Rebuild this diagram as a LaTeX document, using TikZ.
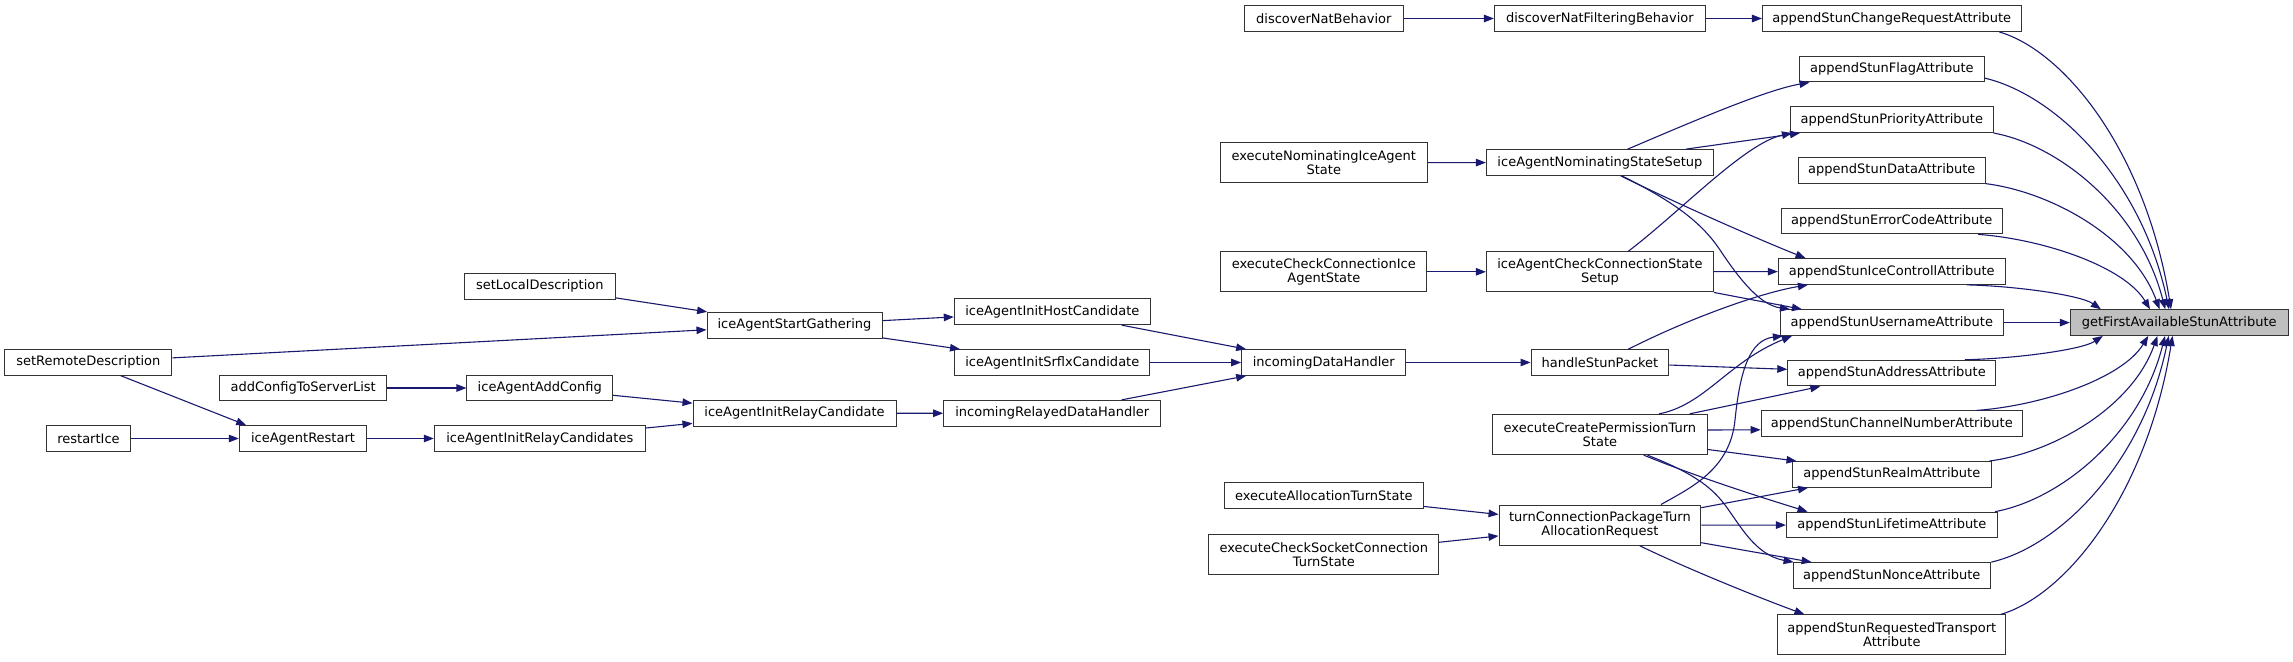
\documentclass[tikz,border=0pt]{standalone}
\usepackage{fontspec}
\setmainfont{DejaVu Sans}
\usetikzlibrary{arrows.meta,calc}
\definecolor{edgeblue}{RGB}{25,25,112}
\definecolor{nodegray}{RGB}{191,191,191}
\begin{document}
\begin{tikzpicture}[x=1pt,y=-1pt,
  fn/.style={draw=black!80, line width=1pt, fill=white, inner sep=0pt, minimum height=25.7pt, align=center, font=\fontsize{13}{14}\selectfont},
  fn2/.style={fn, minimum height=40.3pt},
  call/.style={draw=edgeblue, line width=1.1pt, -{Triangle[length=10pt,width=7.5pt]}},
]
\fill[white] (0,0) rectangle (2293,661);
\useasboundingbox (0,0) rectangle (2293,661);

% column 0
\node[fn, minimum width=167pt] (sRD) at (88.4,362.3) {setRemoteDescription};
\node[fn, minimum width=84pt] (rI) at (88.5,438.5) {restartIce};
% column 1
\node[fn, minimum width=167pt] (aC) at (303.2,388) {addConfigToServerList};
\node[fn, minimum width=127.4pt] (iAR) at (303,438.5) {iceAgentRestart};
% column 2
\node[fn, minimum width=151pt] (sLD) at (539.8,286.3) {setLocalDescription};
\node[fn, minimum width=145.7pt] (iAAC) at (539.8,388) {iceAgentAddConfig};
\node[fn, minimum width=211pt] (iAIRCs) at (539.8,438.5) {iceAgentInitRelayCandidates};
% column 3
\node[fn, minimum width=175pt] (iASG) at (794.5,325.2) {iceAgentStartGathering};
\node[fn, minimum width=203pt] (iAIRC) at (794.5,413.3) {iceAgentInitRelayCandidate};
% column 4
\node[fn, minimum width=196pt] (iAIHC) at (1052.3,311.8) {iceAgentInitHostCandidate};
\node[fn, minimum width=194.7pt] (iAISC) at (1052.3,362.5) {iceAgentInitSrflxCandidate};
\node[fn, minimum width=217.3pt] (iRDH) at (1052.3,413.2) {incomingRelayedDataHandler};
% column 5
\node[fn, minimum width=159pt] (dNB) at (1323.8,18.5) {discoverNatBehavior};
\node[fn2, minimum width=207pt] (eNIAS) at (1323.8,162.7) {executeNominatingIceAgent\\State};
\node[fn2, minimum width=206pt] (eCCIAS) at (1323.8,271.8) {executeCheckConnectionIce\\AgentState};
\node[fn, minimum width=164.3pt] (iDH) at (1323.8,362.5) {incomingDataHandler};
\node[fn, minimum width=199pt] (eATS) at (1323.8,495.8) {executeAllocationTurnState};
\node[fn2, minimum width=229.7pt] (eCSCTS) at (1323.8,554.5) {executeCheckSocketConnection\\TurnState};
% column 6
\node[fn, minimum width=211pt] (dNFB) at (1599.9,18.5) {discoverNatFilteringBehavior};
\node[fn, minimum width=227pt] (iANSS) at (1599.9,162.5) {iceAgentNominatingStateSetup};
\node[fn2, minimum width=227pt] (iACCSS) at (1599.9,271.8) {iceAgentCheckConnectionState\\Setup};
\node[fn, minimum width=137.7pt] (hSP) at (1599.9,362.5) {handleStunPacket};
\node[fn2, minimum width=214.7pt] (eCPTS) at (1599.9,434.5) {executeCreatePermissionTurn\\State};
\node[fn2, minimum width=201.7pt] (tCPTAR) at (1599.9,525.2) {turnConnectionPackageTurn\\AllocationRequest};
% column 7
\node[fn, minimum width=258.7pt] (cRA) at (1891.8,18.5) {appendStunChangeRequestAttribute};
\node[fn, minimum width=184.6pt] (fA) at (1891.8,69.1) {appendStunFlagAttribute};
\node[fn, minimum width=202.7pt] (pA) at (1891.8,119.7) {appendStunPriorityAttribute};
\node[fn, minimum width=186.9pt] (dA) at (1891.8,170.3) {appendStunDataAttribute};
\node[fn, minimum width=220.5pt] (eCA) at (1891.8,221) {appendStunErrorCodeAttribute};
\node[fn, minimum width=226.9pt] (iCA) at (1891.8,271.5) {appendStunIceControllAttribute};
\node[fn, minimum width=222.8pt] (uA) at (1891.8,322.6) {appendStunUsernameAttribute};
\node[fn, minimum width=208pt] (aA) at (1891.8,373.1) {appendStunAddressAttribute};
\node[fn, minimum width=261.3pt] (cNA) at (1891.8,423.8) {appendStunChannelNumberAttribute};
\node[fn, minimum width=198.6pt] (rA) at (1891.8,474.4) {appendStunRealmAttribute};
\node[fn, minimum width=210.7pt] (lA) at (1891.8,525) {appendStunLifetimeAttribute};
\node[fn, minimum width=197.4pt] (nA) at (1891.8,575.5) {appendStunNonceAttribute};
\node[fn, minimum width=227.7pt, minimum height=40pt] (rTA) at (1891.8,634.9) {appendStunRequestedTransport\\Attribute};
% column 8
\node[fn, minimum width=217.8pt, fill=nodegray] (gF) at (2179.2,322.6) {getFirstAvailableStunAttribute};

% ---- left part edges
\draw[call] (sLD) -- (iASG);
\draw[call] (sRD) -- (iASG);
\draw[call] ($(sRD.south)+(32.3,0)$) -- ($(iAR.north west)+(7.4,0)$);
\draw[call] (rI) -- (iAR);
\draw[call] (aC) -- (iAAC);
\draw[call] (iAR) -- (iAIRCs);
\draw[call] (iAAC) -- (iAIRC);
\draw[call] (iAIRCs) -- (iAIRC);
\draw[call] (iAIRC) -- (iRDH);
\draw[call] (iASG) -- (iAIHC);
\draw[call] (iASG) -- (iAISC);
\draw[call] ($(iAIHC.south)+(69.4,0)$) -- ($(iDH.north west)+(5,0)$);
\draw[call] (iAISC) -- (iDH);
\draw[call] ($(iRDH.north)+(69.4,0)$) -- ($(iDH.south west)+(5,0)$);
\draw[call] (iDH) -- (hSP);
\draw[call] (dNB) -- (dNFB);
\draw[call] (dNFB) -- (cRA);
\draw[call] (eNIAS) -- (iANSS);
\draw[call] (eCCIAS) -- (iACCSS);
\draw[call] (eATS) -- (tCPTAR);
\draw[call] (eCSCTS) -- (tCPTAR);

% ---- middle to append column
\draw[call] ($(iANSS.north)+(27.7,0)$) .. controls (1687.6,123.7) and (1765,90) .. ($(fA.south west)+(10.5,0)$);
\draw[call] ($(iANSS.north)+(85.9,0)$) -- ($(pA.south west)+(10,0)$);
\draw[call] ($(iACCSS.north)+(28.5,0)$) .. controls (1680,212) and (1745,143) .. ($(pA.south west)+(2,0)$);
\draw[call] ($(iANSS.south)+(20.8,0)$) .. controls (1680,205) and (1760,240) .. ($(iCA.north west)+(27.7,0)$);
\draw[call] ($(iANSS.south)+(22,0)$) .. controls (1670,200) and (1700,220) .. (1720,250) .. controls (1740,280) and (1760,305) .. ($(uA.north west)+(10,0)$);
\draw[call] (iACCSS) -- (iCA);
\draw[call] (iACCSS.south east) -- ($(uA.north west)+(22,0)$);
\draw[call] ($(hSP.north)+(28.5,0)$) .. controls (1690,318) and (1760,293) .. ($(iCA.south west)+(30,0)$);
\draw[call] (hSP) -- (aA);
\draw[call] ($(eCPTS.north)+(59.1,0)$) .. controls (1705,405) and (1728,362) .. ($(uA.south west)+(12,0)$);
\draw[call] ($(eCPTS.north)+(89.7,0)$) -- ($(aA.south west)+(33,0)$);
\draw[call] ($(eCPTS.east)+(0,-4.5)$) -- ($(cNA.west)+(0,6)$);
\draw[call] ($(eCPTS.east)+(0,15)$) -- ($(rA.north west)+(4.5,0)$);
\draw[call] ($(eCPTS.south)+(43.8,0)$) .. controls (1700,478) and (1760,497) .. ($(lA.north west)+(21.6,0)$);
\draw[call] ($(eCPTS.south)+(47.6,0)$) .. controls (1690,472) and (1710,485) .. (1725,505) .. controls (1740,525) and (1755,555) .. ($(nA.north west)+(1,0)$);
\draw[call] ($(tCPTAR.north)+(61,0)$) .. controls (1690,488) and (1730,470) .. (1735,420) .. controls (1740,370) and (1750,340) .. ($(uA.south west)+(3,0)$);
\draw[call] ($(tCPTAR.east)+(0,-17.5)$) -- ($(rA.south west)+(16,0)$);
\draw[call] (tCPTAR) -- (lA);
\draw[call] ($(tCPTAR.east)+(0,17.5)$) -- ($(nA.north west)+(19,0)$);
\draw[call] ($(tCPTAR.south)+(40,0)$) .. controls (1690,570) and (1760,598) .. ($(rTA.north west)+(27,0)$);

% ---- append column to getFirstAvailableStunAttribute
\draw[call] ($(cRA.south)+(107.2,0)$) .. controls (2064.4,50.8) and (2145.2,151.0) .. ($(gF.north)+(-8.2,0)$);
\draw[call] ($(fA.east)+(0,9)$) .. controls (2054.4,94.3) and (2141.3,177.7) .. ($(gF.north)+(-10.2,0)$);
\draw[call] (pA.south east) .. controls (2058.5,144.95) and (2139.4,208.7) .. ($(gF.north)+(-14,0)$);
\draw[call] (dA.south east) .. controls (2051.5,192.0) and (2133.4,237.6) .. ($(gF.north)+(-19.7,0)$);
\draw[call] ($(eCA.south)+(86.2,0)$) .. controls (2043.4,239.2) and (2124.2,266.5) .. ($(gF.north)+(-29.2,0)$);
\draw[call] ($(iCA.south)+(74.8,0)$) .. controls (2017.6,286.1) and (2080.8,295.3) .. ($(gF.north)+(-78.3,0)$);
\draw[call] (uA) -- (gF);
\draw[call] ($(aA.north)+(73,0)$) .. controls (2017.2,358.5) and (2082.1,349.6) .. ($(gF.south)+(-76.4,0)$);
\draw[call] ($(cNA.north)+(84.3,0)$) .. controls (2041.5,405.7) and (2122.4,378.5) .. ($(gF.south)+(-31,0)$);
\draw[call] ($(rA.north)+(97.5,0)$) .. controls (2053.2,452.7) and (2132.2,407.3) .. ($(gF.south)+(-21.8,0)$);
\draw[call] ($(lA.north)+(103.2,0)$) .. controls (2059.6,499.8) and (2139.5,436.2) .. ($(gF.south)+(-14.2,0)$);
\draw[call] ($(nA.north)+(99.4,0)$) .. controls (2058.65,546.7) and (2142.1,465.0) .. ($(gF.south)+(-10.5,0)$);
\draw[call] ($(rTA.north)+(108.9,0)$) .. controls (2066,595.3) and (2146.7,494.7) .. ($(gF.south)+(-6.7,0)$);
\end{tikzpicture}
\end{document}
